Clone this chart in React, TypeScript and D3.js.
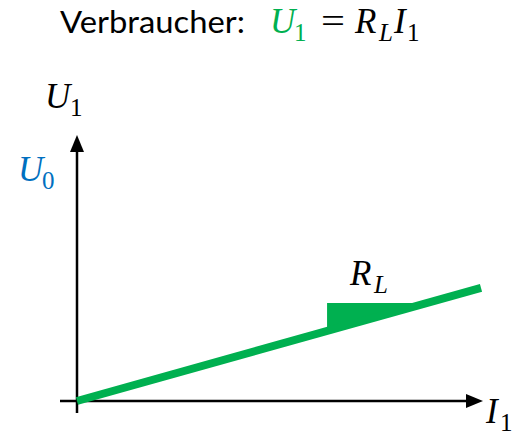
import React from "react";
import * as d3 from "d3";

// Data (arbitrary units)
const xDomain = [0, 10];
const yDomain = [0, 10];
const lineXs = [0, 10];
const slope = 0.425; // U1 = R_L * I1
const triangleX = [6.19, 8.66]; // slope triangle start / end (I1)
const triangleTop = 3.68; // U1 level of triangle's top edge
const u0Level = 8.6;

const W = 529;
const H = 437;
const green = "#00B050";
const blue = "#0070C0";
const mathFont = "'Liberation Serif', 'DejaVu Serif', serif";
const textFont = "Lato, 'Open Sans', sans-serif";
const MS = 35;
const SS = 25;

export default function App() {
  const x = d3.scaleLinear().domain(xDomain).range([77, 481]);
  const y = d3.scaleLinear().domain(yDomain).range([401, 135]);

  const lineGen = d3
    .line<number>()
    .x((d) => x(d))
    .y((d) => y(d * slope));

  const tri: [number, number][] = [
    [x(triangleX[0]), y(triangleX[0] * slope)],
    [x(triangleX[0]), y(triangleTop)],
    [x(triangleX[1]), y(triangleTop)],
  ];
  const triPath = d3.line()(tri) + "Z";

  const x0 = x(0);
  const y0 = y(0);
  const xEnd = x(xDomain[1]) + 2;
  const yEnd = y(yDomain[1]);

  return (
    <svg
      width={W}
      height={H}
      style={{ position: "absolute", left: 0, top: 0, background: "#fff" }}
    >
      {/* Title */}
      <text x={60} y={33} fontFamily={textFont} fontSize={31} fill="#000" textLength={185} lengthAdjust="spacingAndGlyphs">
        Verbraucher:
      </text>
      <g fontFamily={mathFont} fontStyle="italic" fontSize={MS}>
        <text x={270} y={33} fill={green}>U</text>
        <text x={294} y={41} fill={green} fontStyle="normal" fontSize={SS}>1</text>
        <text x={321} y={33} fontStyle="normal" fill="#000" textLength={24} lengthAdjust="spacingAndGlyphs">=</text>
        <text x={355} y={33} fill="#000">R</text>
        <text x={379} y={41} fill="#000" fontSize={SS}>L</text>
        <text x={394} y={33} fill="#000">I</text>
        <text x={407} y={41} fill="#000" fontStyle="normal" fontSize={SS}>1</text>
      </g>

      {/* Axes */}
      <line x1={x0} y1={413} x2={x0} y2={yEnd + 14} stroke="#000" strokeWidth={2.5} />
      <path d={`M${x0},${yEnd} L${x0 - 7},${yEnd + 17} L${x0 + 7},${yEnd + 17} Z`} fill="#000" />
      <line x1={60} y1={y0} x2={xEnd - 14} y2={y0} stroke="#000" strokeWidth={2.5} />
      <path d={`M${xEnd},${y0} L${xEnd - 17},${y0 - 7} L${xEnd - 17},${y0 + 7} Z`} fill="#000" />

      {/* Axis labels */}
      <g fontFamily={mathFont} fontStyle="italic" fontSize={MS}>
        <text x={45} y={108} fill="#000">U</text>
        <text x={70} y={116} fill="#000" fontStyle="normal" fontSize={SS}>1</text>
        <text x={18} y={y(u0Level) + 9} fill={blue}>U</text>
        <text x={42} y={y(u0Level) + 17} fill={blue} fontStyle="normal" fontSize={SS}>0</text>
        <text x={486} y={423} fill="#000">I</text>
        <text x={500} y={431} fill="#000" fontStyle="normal" fontSize={SS}>1</text>
      </g>

      {/* Slope triangle */}
      <path d={triPath} fill={green} />
      <g fontFamily={mathFont} fontStyle="italic" fontSize={MS}>
        <text x={350} y={285} fill="#000">R</text>
        <text x={374} y={293} fill="#000" fontSize={SS}>L</text>
      </g>

      {/* Line */}
      <path d={lineGen(lineXs) ?? ""} stroke={green} strokeWidth={8} fill="none" />
    </svg>
  );
}
